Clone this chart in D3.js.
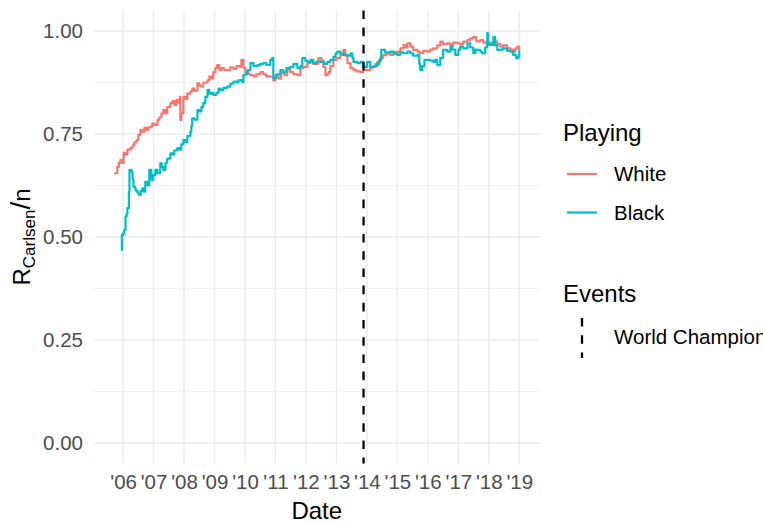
<!DOCTYPE html>
<html>
<head>
<meta charset="utf-8">
<script src="https://cdn.jsdelivr.net/npm/d3@7"></script>
<style>
  html, body { margin: 0; padding: 0; background: #fff; }
  svg { display: block; font-family: "Liberation Sans", Arial, sans-serif; }
</style>
</head>
<body>
<svg id="chart" width="763" height="525"></svg>
<script>
// ---- data (decimal years, ratio values) ----
const whiteYears = [2005.71,2005.81,2005.86,2005.91,2005.96,2006.02,2006.08,2006.14,2006.24,2006.31,2006.37,2006.44,2006.50,2006.57,2006.63,2006.70,2006.76,2006.83,2006.90,2006.96,2007.03,2007.13,2007.19,2007.26,2007.32,2007.39,2007.45,2007.55,2007.62,2007.68,2007.75,2007.81,2007.86,2007.88,2007.91,2007.98,2008.04,2008.11,2008.21,2008.27,2008.34,2008.44,2008.50,2008.54,2008.63,2008.77,2008.83,2008.90,2008.96,2009.03,2009.09,2009.16,2009.23,2009.32,2009.42,2009.52,2009.62,2009.72,2009.82,2009.88,2009.95,2010.01,2010.11,2010.18,2010.28,2010.37,2010.50,2010.60,2010.70,2010.83,2010.93,2011.00,2011.10,2011.19,2011.29,2011.39,2011.49,2011.59,2011.72,2011.82,2011.92,2012.05,2012.15,2012.24,2012.41,2012.51,2012.57,2012.64,2012.70,2012.74,2012.80,2012.90,2013.00,2013.13,2013.23,2013.29,2013.36,2013.46,2013.56,2013.66,2013.79,2013.88,2014.01,2014.11,2014.18,2014.28,2014.34,2014.44,2014.54,2014.64,2014.77,2014.87,2015.00,2015.10,2015.20,2015.26,2015.33,2015.43,2015.52,2015.66,2015.75,2015.85,2015.98,2016.08,2016.18,2016.31,2016.41,2016.50,2016.64,2016.74,2016.83,2016.97,2017.06,2017.16,2017.30,2017.39,2017.49,2017.59,2017.72,2017.82,2017.95,2018.05,2018.15,2018.28,2018.38,2018.47,2018.60,2018.71,2018.80,2018.87,2018.94,2019.00];
const whiteValues = [0.655,0.670,0.680,0.687,0.680,0.704,0.700,0.712,0.716,0.722,0.730,0.735,0.748,0.760,0.756,0.765,0.760,0.766,0.768,0.775,0.772,0.784,0.790,0.800,0.808,0.800,0.815,0.825,0.830,0.820,0.832,0.826,0.840,0.784,0.800,0.840,0.835,0.848,0.853,0.860,0.855,0.873,0.868,0.865,0.875,0.880,0.890,0.885,0.900,0.910,0.917,0.905,0.910,0.905,0.905,0.912,0.908,0.915,0.913,0.930,0.910,0.900,0.895,0.893,0.890,0.895,0.900,0.895,0.890,0.889,0.880,0.893,0.885,0.898,0.893,0.905,0.900,0.895,0.893,0.910,0.913,0.922,0.926,0.920,0.934,0.928,0.913,0.893,0.895,0.900,0.915,0.930,0.935,0.942,0.954,0.940,0.922,0.910,0.905,0.902,0.900,0.906,0.905,0.910,0.913,0.920,0.925,0.935,0.942,0.945,0.942,0.948,0.950,0.958,0.966,0.960,0.970,0.962,0.954,0.950,0.946,0.952,0.950,0.955,0.958,0.965,0.974,0.968,0.970,0.965,0.972,0.970,0.968,0.974,0.978,0.982,0.985,0.975,0.978,0.972,0.966,0.972,0.974,0.968,0.962,0.965,0.958,0.955,0.950,0.958,0.962,0.954];

const blackYears = [2005.94,2005.96,2006.01,2006.04,2006.08,2006.11,2006.14,2006.19,2006.21,2006.27,2006.31,2006.34,2006.40,2006.44,2006.50,2006.53,2006.58,2006.63,2006.68,2006.73,2006.80,2006.86,2006.93,2006.99,2007.06,2007.13,2007.22,2007.27,2007.32,2007.39,2007.45,2007.55,2007.62,2007.68,2007.78,2007.85,2007.91,2007.98,2008.04,2008.11,2008.21,2008.24,2008.27,2008.34,2008.44,2008.50,2008.57,2008.63,2008.70,2008.77,2008.83,2008.90,2008.96,2009.06,2009.13,2009.19,2009.29,2009.42,2009.52,2009.62,2009.72,2009.78,2009.85,2009.91,2009.95,2010.01,2010.08,2010.18,2010.28,2010.41,2010.50,2010.60,2010.70,2010.83,2010.90,2010.93,2011.03,2011.16,2011.26,2011.36,2011.49,2011.59,2011.72,2011.82,2011.88,2011.98,2012.05,2012.15,2012.24,2012.34,2012.47,2012.60,2012.70,2012.80,2012.90,2012.97,2013.03,2013.13,2013.23,2013.36,2013.46,2013.52,2013.56,2013.69,2013.79,2013.88,2014.01,2014.11,2014.24,2014.34,2014.41,2014.47,2014.60,2014.77,2014.90,2015.00,2015.10,2015.20,2015.33,2015.43,2015.52,2015.66,2015.72,2015.75,2015.82,2015.89,2015.98,2016.08,2016.18,2016.24,2016.31,2016.41,2016.50,2016.64,2016.74,2016.80,2016.90,2017.00,2017.06,2017.16,2017.30,2017.39,2017.49,2017.56,2017.62,2017.72,2017.78,2017.88,2017.95,2017.98,2018.05,2018.15,2018.21,2018.28,2018.38,2018.47,2018.60,2018.71,2018.80,2018.90,2018.97,2019.00];
const blackValues = [0.468,0.505,0.510,0.517,0.549,0.555,0.570,0.610,0.663,0.659,0.640,0.622,0.615,0.610,0.605,0.602,0.612,0.618,0.610,0.634,0.625,0.663,0.638,0.650,0.663,0.655,0.679,0.670,0.663,0.680,0.690,0.703,0.700,0.710,0.716,0.712,0.725,0.735,0.730,0.745,0.756,0.770,0.788,0.785,0.808,0.805,0.815,0.825,0.840,0.857,0.848,0.850,0.845,0.850,0.860,0.857,0.862,0.865,0.872,0.877,0.875,0.880,0.881,0.876,0.893,0.895,0.905,0.922,0.915,0.917,0.920,0.922,0.918,0.930,0.935,0.886,0.895,0.905,0.900,0.910,0.913,0.920,0.910,0.915,0.934,0.928,0.925,0.930,0.922,0.926,0.925,0.920,0.925,0.930,0.937,0.945,0.950,0.945,0.942,0.940,0.946,0.935,0.925,0.922,0.925,0.913,0.925,0.913,0.915,0.920,0.930,0.954,0.948,0.950,0.945,0.942,0.948,0.946,0.950,0.946,0.940,0.942,0.920,0.905,0.915,0.930,0.930,0.928,0.925,0.930,0.917,0.935,0.954,0.950,0.962,0.955,0.942,0.955,0.962,0.958,0.970,0.960,0.946,0.955,0.954,0.950,0.946,0.960,0.995,0.970,0.966,0.985,0.965,0.954,0.955,0.958,0.952,0.950,0.942,0.934,0.938,0.954];

const yearTicks = [2006,2007,2008,2009,2010,2011,2012,2013,2014,2015,2016,2017,2018,2019];
const yTicks = [0, 0.25, 0.5, 0.75, 1];
const yMinor = [0.125, 0.375, 0.625, 0.875];
const eventDate = "2013-11-22";
const eventLabel = "World Champion";
const seriesNames = ["White", "Black"];
const seriesColors = ["#F8766D", "#00BFC4"];

// ---- helpers ----
function decToDate(y) {
  const yr = Math.floor(y);
  const start = new Date(yr, 0, 1), end = new Date(yr + 1, 0, 1);
  return new Date(start.getTime() + (y - yr) * (end - start));
}

const svg = d3.select("#chart");
const panel = { left: 94, right: 539.5, top: 10.4, bottom: 463.6 };
const FONT = "'Liberation Sans', Arial, sans-serif";
const LABEL_SIZE = "20.5px";

const x = d3.scaleTime()
  .domain([decToDate(2005.045), decToDate(2019.665)])
  .range([panel.left, panel.right]);
const y = d3.scaleLinear()
  .domain([-0.05, 1.05])
  .range([panel.bottom, panel.top]);

// grid
const grid = svg.append("g");
grid.selectAll(".ymin").data(yMinor).join("line")
  .attr("x1", panel.left).attr("x2", panel.right)
  .attr("y1", d => y(d)).attr("y2", d => y(d))
  .attr("stroke", "#EBEBEB").attr("stroke-width", 0.7);
grid.selectAll(".ymaj").data(yTicks).join("line")
  .attr("x1", panel.left).attr("x2", panel.right)
  .attr("y1", d => y(d)).attr("y2", d => y(d))
  .attr("stroke", "#EBEBEB").attr("stroke-width", 1.4);
grid.selectAll(".xmaj").data(yearTicks).join("line")
  .attr("x1", d => x(new Date(d, 0, 1))).attr("x2", d => x(new Date(d, 0, 1)))
  .attr("y1", panel.top).attr("y2", panel.bottom)
  .attr("stroke", "#EBEBEB").attr("stroke-width", 1.4);

// lines
const line = d3.line()
  .x(d => x(d.date)).y(d => y(d.value))
  .curve(d3.curveStepAfter);
const series = [
  { name: seriesNames[0], color: seriesColors[0], data: whiteYears.map((t, i) => ({ date: decToDate(t), value: whiteValues[i] })) },
  { name: seriesNames[1], color: seriesColors[1], data: blackYears.map((t, i) => ({ date: decToDate(t), value: blackValues[i] })) }
];
svg.append("g").selectAll("path").data(series).join("path")
  .attr("d", d => line(d.data))
  .attr("fill", "none")
  .attr("stroke", d => d.color)
  .attr("stroke-width", 2.2)
  .attr("stroke-linejoin", "round");

// event line
const ex = x(new Date(eventDate));
svg.append("line")
  .attr("x1", ex).attr("x2", ex)
  .attr("y1", panel.top).attr("y2", panel.bottom)
  .attr("stroke", "#000").attr("stroke-width", 2.3)
  .attr("stroke-dasharray", "8.6,8.6");

// axes
const xAxis = svg.append("g")
  .attr("transform", `translate(0,${panel.bottom})`)
  .call(d3.axisBottom(x).tickValues(yearTicks.map(d => new Date(d, 0, 1)))
    .tickFormat(d3.timeFormat("'%y")).tickSize(0).tickPadding(11));
xAxis.select(".domain").remove();
xAxis.selectAll("text").attr("fill", "#4D4D4D").style("font-size", LABEL_SIZE)
  .style("font-family", FONT);

const yAxis = svg.append("g")
  .attr("transform", `translate(${panel.left},0)`)
  .call(d3.axisLeft(y).tickValues(yTicks).tickFormat(d3.format(".2f")).tickSize(0).tickPadding(11));
yAxis.select(".domain").remove();
yAxis.selectAll("text").attr("fill", "#4D4D4D").style("font-size", LABEL_SIZE)
  .style("font-family", FONT);

// axis titles
svg.append("text")
  .attr("x", (panel.left + panel.right) / 2).attr("y", 519)
  .attr("text-anchor", "middle")
  .style("font-size", "24px").attr("fill", "#000")
  .text("Date");

const yt = svg.append("text")
  .attr("transform", `translate(30,${(panel.top + panel.bottom) / 2}) rotate(-90)`)
  .attr("text-anchor", "middle")
  .attr("fill", "#000");
yt.append("tspan").style("font-size", "24px").text("R");
yt.append("tspan").style("font-size", "17px").attr("dy", 5).text("Carlsen");
yt.append("tspan").style("font-size", "28px").attr("dy", -5).text("/");
yt.append("tspan").style("font-size", "24px").text("n");

// legend
const lg = svg.append("g");
lg.append("text").attr("x", 563).attr("y", 141).style("font-size", "24px").text("Playing");
series.forEach((s, i) => {
  const cy = 174 + i * 38.5;
  lg.append("line").attr("x1", 567).attr("x2", 597).attr("y1", cy).attr("y2", cy)
    .attr("stroke", s.color).attr("stroke-width", 2.2);
  lg.append("text").attr("x", 614).attr("y", cy + 7).style("font-size", LABEL_SIZE).text(s.name);
});
lg.append("text").attr("x", 563).attr("y", 302).style("font-size", "24px").text("Events");
lg.append("line").attr("x1", 582).attr("x2", 582).attr("y1", 318).attr("y2", 358)
  .attr("stroke", "#000").attr("stroke-width", 2.3).attr("stroke-dasharray", "8.6,8.6");
lg.append("text").attr("x", 614).attr("y", 344).style("font-size", LABEL_SIZE).text(eventLabel);
</script>
</body>
</html>
